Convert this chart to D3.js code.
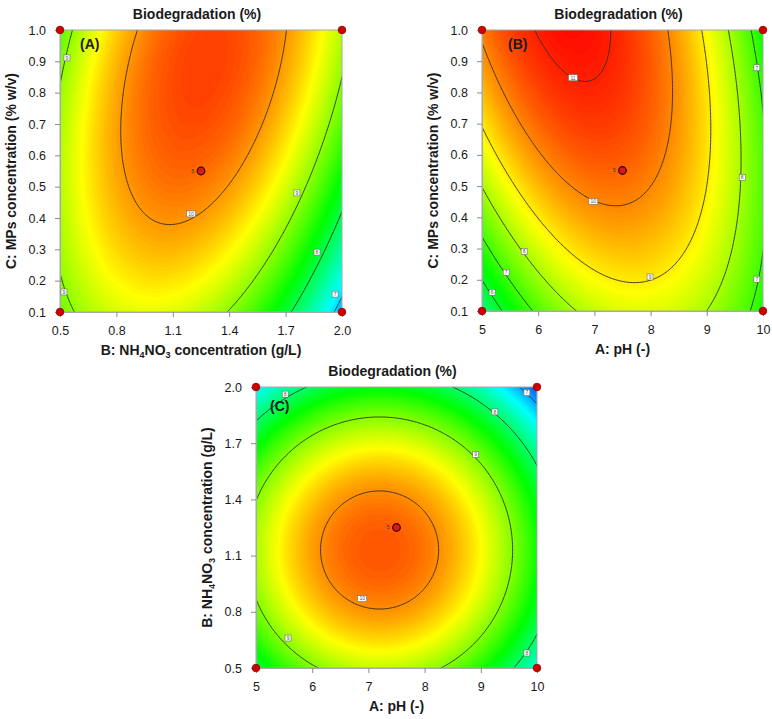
<!DOCTYPE html>
<html>
<head>
<meta charset="utf-8">
<script src="https://cdn.jsdelivr.net/npm/d3@7"></script>
<style>
  body { margin: 0; background: #fff; }
  svg text { font-family: Arial, "Liberation Sans", sans-serif; }
</style>
</head>
<body>
<script>
// Response surface: quadratic model in coded units (-1..1)
// order: [b0, bX, bY, bXY, bXX, bYY]
const coefA = [10.205, -0.398, 0.576, 0.62, -1.43, -0.39];   // x = B (NH4NO3), y = C (MPs)
const coefB = [10.33, -0.571, 1.177, -1.273, -2.6, -0.643];  // x = A (pH), y = C (MPs)
const coefC = [10.19, -0.334, -0.445, 0, -1.39, -1.39];      // x = A (pH), y = B (NH4NO3)

// contour levels drawn as lines
const levelsA = [7, 8, 9, 10];
const levelsB = [6, 7, 8, 9, 10, 11];
const levelsC = [7, 8, 9, 10];

// value range mapped onto the blue..red colour ramp
const rampA = [6.0, 10.7];
const rampB = [1.5, 11.3];
const rampC = [6.3, 10.6];

// contour label boxes [x, y, level]
const labelsA = [[0.537, 0.911, 9], [1.197, 0.413, 10], [1.76, 0.48, 9], [1.867, 0.291, 8], [1.963, 0.157, 7], [0.521, 0.164, 9]];
const labelsB = [[6.62, 0.847, 11], [6.98, 0.451, 10], [7.99, 0.209, 9], [9.63, 0.528, 8], [9.89, 0.879, 7], [9.89, 0.202, 7], [5.75, 0.291, 8], [5.43, 0.224, 7], [5.18, 0.16, 6]];
const labelsC = [[5.52, 1.962, 8], [9.82, 1.97, 7], [9.25, 1.867, 8], [8.91, 1.64, 9], [6.89, 0.87, 10], [5.57, 0.66, 9], [9.82, 0.58, 8]];

// factor ranges and ticks
const rangePH = [5, 10];
const rangeNH4 = [0.5, 2.0];
const rangeMPs = [0.1, 1.0];
const ticksPH = [5, 6, 7, 8, 9, 10];
const ticksNH4 = [0.5, 0.8, 1.1, 1.4, 1.7, 2.0];
const ticksMPs = [0.1, 0.2, 0.3, 0.4, 0.5, 0.6, 0.7, 0.8, 0.9, 1.0];
const centerRuns = "5";

const titleText = "Biodegradation (%)";
const titlePH = [["A: pH (-)", ""]];
const titleNH4 = [["B: NH", ""], ["4", "sub"], ["NO", ""], ["3", "sub"], [" concentration (g/L)", ""]];
const titleMPs = [["C: MPs concentration (% w/v)", ""]];

const panels = [
  { left: 60, top: 30, size: 282, letter: "(A)", letterAt: [20, 19], coef: coefA, levels: levelsA, ramp: rampA, labels: labelsA,
    xRange: rangeNH4, yRange: rangeMPs, xTicks: ticksNH4, yTicks: ticksMPs, xFmt: ".1f", yFmt: ".1f",
    xTitle: titleNH4, yTitle: titleMPs },
  { left: 482, top: 30, size: 281, letter: "(B)", letterAt: [26, 19], coef: coefB, levels: levelsB, ramp: rampB, labels: labelsB,
    xRange: rangePH, yRange: rangeMPs, xTicks: ticksPH, yTicks: ticksMPs, xFmt: "d", yFmt: ".1f",
    xTitle: titlePH, yTitle: titleMPs },
  { left: 256, top: 387, size: 281, letter: "(C)", letterAt: [14, 24], coef: coefC, levels: levelsC, ramp: rampC, labels: labelsC,
    xRange: rangePH, yRange: rangeNH4, xTicks: ticksPH, yTicks: ticksNH4, xFmt: "d", yFmt: ".1f",
    xTitle: titlePH, yTitle: titleNH4 }
];

const svg = d3.select("body").append("svg")
  .attr("width", 772)
  .attr("height", 719);
const defs = svg.append("defs");

const palette = d3.scaleLinear()
  .domain([0, 0.25, 0.5, 0.75, 1])
  .range(["#0000ff", "#00ffff", "#00ff00", "#ffff00", "#ff0000"])
  .clamp(true);

function model(c, u, w) {
  return c[0] + c[1] * u + c[2] * w + c[3] * u * w + c[4] * u * u + c[5] * w * w;
}

function addParts(textSel, parts) {
  parts.forEach(([s, kind]) => {
    const t = textSel.append("tspan").text(s);
    if (kind === "sub") t.attr("baseline-shift", "-3").style("font-size", "9px");
  });
}

// grid extends past the frame so the clip hides the grid border
const n = 221, ext = 1.1, step = 2 * ext / (n - 1);

panels.forEach((p, k) => {
  const xs = d3.scaleLinear().domain(p.xRange).range([p.left, p.left + p.size]);
  const ys = d3.scaleLinear().domain(p.yRange).range([p.top + p.size, p.top]);
  const xMid = (p.xRange[0] + p.xRange[1]) / 2, xHalf = (p.xRange[1] - p.xRange[0]) / 2;
  const yMid = (p.yRange[0] + p.yRange[1]) / 2, yHalf = (p.yRange[1] - p.yRange[0]) / 2;

  const values = new Float64Array(n * n);
  for (let j = 0; j < n; j++) {
    for (let i = 0; i < n; i++) {
      values[j * n + i] = model(p.coef, -ext + i * step, -ext + j * step);
    }
  }

  const proj = d3.geoTransform({
    point: function (x, y) {
      this.stream.point(
        xs(xMid + (-ext + (x - 0.5) * step) * xHalf),
        ys(yMid + (-ext + (y - 0.5) * step) * yHalf));
    }
  });
  const path = d3.geoPath(proj);

  defs.append("clipPath").attr("id", "clip" + k)
    .append("rect")
    .attr("x", p.left).attr("y", p.top)
    .attr("width", p.size).attr("height", p.size);

  const g = svg.append("g");
  const plot = g.append("g").attr("clip-path", `url(#clip${k})`);

  const [vmin, vmax] = d3.extent(values);
  const bandStep = (vmax - vmin) / 140;
  const bands = d3.range(vmin - bandStep, vmax, bandStep);
  const color = v => palette((v - p.ramp[0]) / (p.ramp[1] - p.ramp[0]));

  plot.selectAll("path.band")
    .data(d3.contours().size([n, n]).thresholds(bands)(values))
    .join("path")
    .attr("class", "band")
    .attr("d", path)
    .attr("fill", d => color(d.value + bandStep / 2))
    .attr("stroke", d => color(d.value + bandStep / 2))
    .attr("stroke-width", 0.4);

  plot.selectAll("path.iso")
    .data(d3.contours().size([n, n]).thresholds(p.levels)(values))
    .join("path")
    .attr("class", "iso")
    .attr("d", path)
    .attr("fill", "none")
    .attr("stroke", "#2b2b24")
    .attr("stroke-width", 0.9);

  // frame
  g.append("rect")
    .attr("x", p.left).attr("y", p.top)
    .attr("width", p.size).attr("height", p.size)
    .attr("fill", "none")
    .attr("stroke", "#a8a8a8")
    .attr("stroke-width", 1);

  // axes
  const xAxis = g.append("g")
    .attr("transform", `translate(0,${p.top + p.size})`)
    .call(d3.axisBottom(xs).tickValues(p.xTicks).tickFormat(d3.format(p.xFmt))
      .tickSize(5).tickSizeOuter(0).tickPadding(9));
  const yAxis = g.append("g")
    .attr("transform", `translate(${p.left},0)`)
    .call(d3.axisLeft(ys).tickValues(p.yTicks).tickFormat(d3.format(p.yFmt))
      .tickSize(5).tickSizeOuter(0).tickPadding(9));
  [xAxis, yAxis].forEach(a => {
    a.select(".domain").attr("stroke", "#a8a8a8");
    a.selectAll(".tick line").attr("stroke", "#8a8a8a");
    a.selectAll(".tick text")
      .attr("fill", "#1a1a1a")
      .style("font-size", "12.5px")
      .style("font-family", "Arial, 'Liberation Sans', sans-serif");
  });

  // contour label boxes
  const lab = g.selectAll("g.lab")
    .data(p.labels)
    .join("g")
    .attr("class", "lab")
    .attr("transform", d => `translate(${xs(d[0])},${ys(d[1])})`);
  lab.append("rect")
    .attr("x", d => -(3 + 3 * String(d[2]).length) / 2)
    .attr("y", -3)
    .attr("width", d => 3 + 3 * String(d[2]).length)
    .attr("height", 6)
    .attr("fill", "#fff")
    .attr("stroke", "#6a6a6a")
    .attr("stroke-width", 0.6);
  lab.append("text")
    .attr("text-anchor", "middle")
    .attr("y", 1.8)
    .style("font-size", "5px")
    .attr("fill", "#555")
    .text(d => d[2]);

  // design points: corners and centre point
  const corners = [[p.xRange[0], p.yRange[0]], [p.xRange[1], p.yRange[0]], [p.xRange[0], p.yRange[1]], [p.xRange[1], p.yRange[1]]];
  g.selectAll("circle.corner")
    .data(corners)
    .join("circle")
    .attr("class", "corner")
    .attr("cx", d => xs(d[0]))
    .attr("cy", d => ys(d[1]))
    .attr("r", 3.8)
    .attr("fill", "#d00000")
    .attr("stroke", "#8a0000")
    .attr("stroke-width", 0.8);

  g.append("circle")
    .attr("cx", xs(xMid)).attr("cy", ys(yMid))
    .attr("r", 3.8)
    .attr("fill", "#d41a1a")
    .attr("stroke", "#2a0000")
    .attr("stroke-width", 1.2);
  g.append("text")
    .attr("x", xs(xMid) - 7).attr("y", ys(yMid) + 1.8)
    .attr("text-anchor", "end")
    .style("font-size", "5px")
    .attr("fill", "#333")
    .text(centerRuns);

  // titles
  g.append("text")
    .attr("x", p.left + p.size / 2 - 4)
    .attr("y", p.top - 11)
    .attr("text-anchor", "middle")
    .style("font-size", "14px")
    .style("font-weight", "bold")
    .attr("fill", "#1a1a1a")
    .text(titleText);

  g.append("text")
    .attr("x", p.left + p.letterAt[0])
    .attr("y", p.top + p.letterAt[1])
    .style("font-size", "14px")
    .style("font-weight", "bold")
    .attr("fill", "#1a1a1a")
    .text(p.letter);

  const xt = g.append("text")
    .attr("x", p.left + p.size / 2)
    .attr("y", p.top + p.size + 43)
    .attr("text-anchor", "middle")
    .style("font-size", "14px")
    .style("font-weight", "bold")
    .attr("fill", "#1a1a1a");
  addParts(xt, p.xTitle);

  const yt = g.append("text")
    .attr("transform", `translate(${p.left - 44},${p.top + p.size / 2}) rotate(-90)`)
    .attr("text-anchor", "middle")
    .style("font-size", "14px")
    .style("font-weight", "bold")
    .attr("fill", "#1a1a1a");
  addParts(yt, p.yTitle);
});
</script>
</body>
</html>
